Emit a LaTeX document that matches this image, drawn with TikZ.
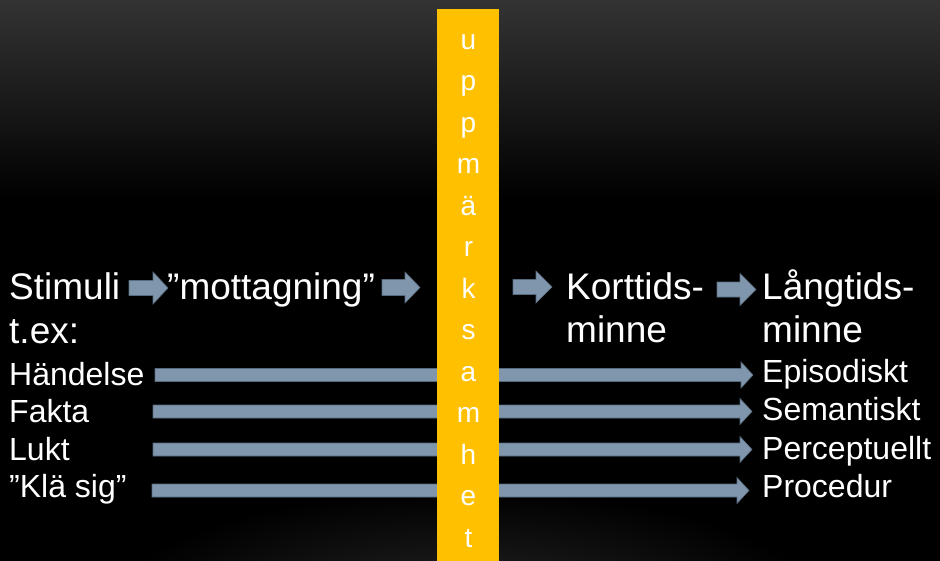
\documentclass[tikz,border=0pt]{standalone}
\usepackage{fontspec}
\setmainfont{Liberation Sans}
\usetikzlibrary{calc}
\definecolor{barcol}{RGB}{255,192,0}
\definecolor{arrfill}{RGB}{128,150,172}
\definecolor{arrline}{RGB}{88,106,126}
\definecolor{topgray}{RGB}{52,52,52}
\definecolor{glow}{RGB}{38,38,38}
\tikzset{
  bigtext/.style={anchor=base west, inner sep=0pt, text=white, font=\fontsize{37}{43}\selectfont},
  smalltext/.style={anchor=base west, inner sep=0pt, text=white, font=\fontsize{32}{37}\selectfont},
  barletter/.style={anchor=base, inner sep=0pt, text=white, font=\fontsize{28}{32}\selectfont},
  blockarr/.style={fill=arrfill, draw=arrline, line width=0.6pt, line join=miter},
}
% block arrow from named coordinate #1 to named coordinate #2
% #3 shaft half-height, #4 head half-height, #5 head length
\newcommand{\blockarrow}[5]{%
  \filldraw[blockarr] ($(#1)+(0,-#3)$) -- ($(#2)+(-#5,-#3)$) -- ($(#2)+(-#5,-#4)$)
    -- (#2) -- ($(#2)+(-#5,#4)$) -- ($(#2)+(-#5,#3)$) -- ($(#1)+(0,#3)$) -- cycle;}
\begin{document}
\begin{tikzpicture}[x=1pt,y=-1pt]
\useasboundingbox (0,0) rectangle (940,560);
% background
\fill[black] (-10,-10) rectangle (950,575);
\shade[top color=topgray, bottom color=black] (-10,-2) rectangle (950,200);
\fill[topgray] (-10,-10) rectangle (950,-1.9);
\shade[inner color=glow, outer color=black] (465,610) ellipse [x radius=360, y radius=120];

% top row texts
\node[bigtext] (stim) at (9,299) {Stimuli};
\node[bigtext] (tex) at (9,343) {t.ex:};
\node[bigtext] (mott) at (167,299) {”mottagning”};
\node[bigtext] (kort1) at (566,299) {Korttids-};
\node[bigtext] (kort2) at (566,342) {minne};
\node[bigtext] (lang1) at (762,299) {Långtids-};
\node[bigtext] (lang2) at (762,342) {minne};

% left labels
\node[smalltext] (hand) at (9,385) {Händelse};
\node[smalltext] (fakt) at (9,422) {Fakta};
\node[smalltext] (lukt) at (9,460) {Lukt};
\node[smalltext] (klae) at (9,497) {”Klä sig”};

% right labels
\node[smalltext] (epis) at (762,382) {Episodiskt};
\node[smalltext] (sema) at (762,420) {Semantiskt};
\node[smalltext] (perc) at (762,459) {Perceptuellt};
\node[smalltext] (proc) at (762,497) {Procedur};

% arrow end points
\coordinate (a1s) at (129,288);   \coordinate (a1e) at (168,288);
\coordinate (a2s) at (382,287.5); \coordinate (a2e) at (420,287.5);
\coordinate (a3s) at (513,287);   \coordinate (a3e) at (552,287);
\coordinate (a4s) at (717,289.5); \coordinate (a4e) at (756,289.5);

\coordinate (h1s) at (155,375);   \coordinate (h1e) at (753,375);
\coordinate (h2s) at (153,411.5); \coordinate (h2e) at (752,411.5);
\coordinate (h3s) at (153,449.5); \coordinate (h3e) at (752,449.5);
\coordinate (h4s) at (152,490.5); \coordinate (h4e) at (749,490.5);

% small block arrows
\blockarrow{a1s}{a1e}{7.5}{16}{15}
\blockarrow{a2s}{a2e}{8}{15.5}{15}
\blockarrow{a3s}{a3e}{7.5}{16}{16}
\blockarrow{a4s}{a4e}{7.5}{16}{16}

% long arrows
\blockarrow{h1s}{h1e}{6.5}{13}{12}
\blockarrow{h2s}{h2e}{6.5}{13}{12}
\blockarrow{h3s}{h3e}{6.5}{13}{12}
\blockarrow{h4s}{h4e}{6.5}{13}{12}

% yellow bar
\fill[barcol] (437,9) rectangle (499,570);
\foreach \c [count=\i from 0] in {u,p,p,m,ä,r,k,s,a,m,h,e,t}
  \node[barletter] (L\i) at (468.5,49+41.5*\i) {\c};
\end{tikzpicture}
\end{document}
